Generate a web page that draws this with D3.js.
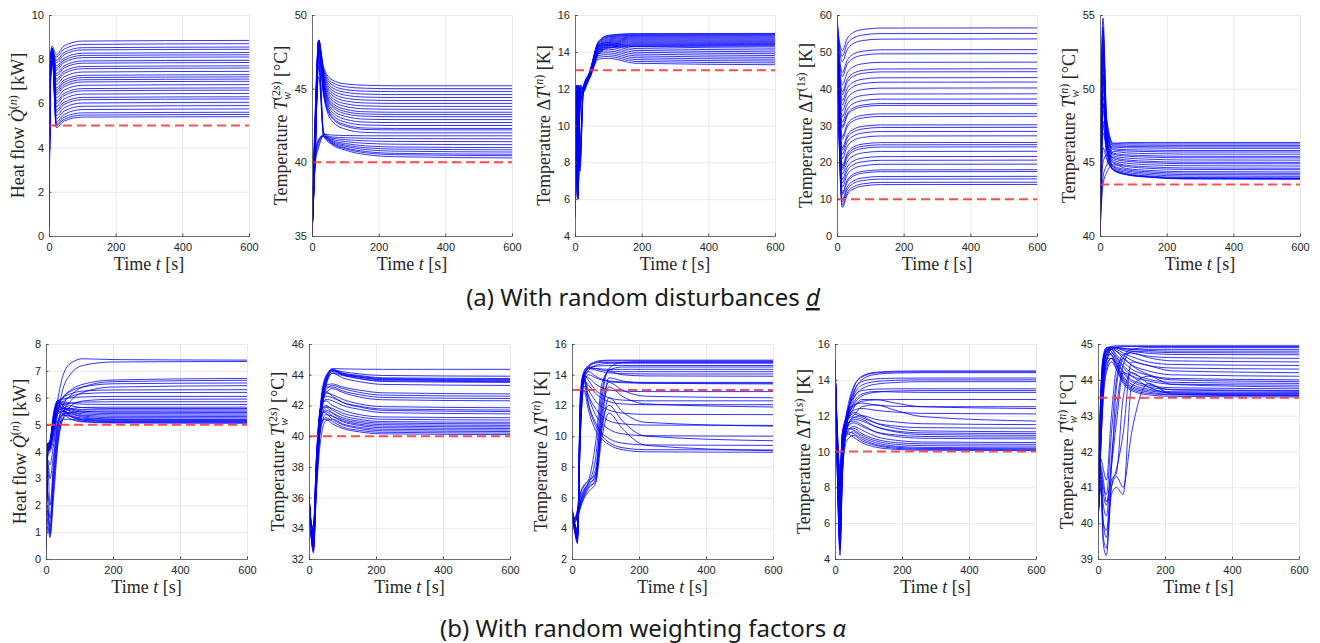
<!DOCTYPE html>
<html>
<head>
<meta charset="utf-8">
<script src="https://cdn.jsdelivr.net/npm/d3@7"></script>
<style>
  body { margin: 0; background: #fff; }
  svg { display: block; }
  .tick text { font-family: "Liberation Sans", Arial, sans-serif; font-size: 11px; fill: #262626; }
</style>
</head>
<body>
<svg id="chart" width="1320" height="643"></svg>
<script>

// ---------- data ----------
const xTicks = [0, 200, 400, 600];

// (a) with random disturbances
const a1Times = [0, 4, 9, 22, 45, 100, 600];
const a1Lines = [
  [0.4, 6.2, 8.3, 4.9, 5.2, 5.38, 5.4], [1.2, 6.8, 8.4, 5.0, 5.28, 5.47, 5.5],
  [0.6, 7.0, 8.2, 5.05, 5.38, 5.57, 5.6], [0.9, 6.5, 8.5, 5.15, 5.5, 5.72, 5.75],
  [0.3, 7.2, 8.3, 5.3, 5.65, 5.87, 5.9], [1.5, 6.9, 8.4, 5.45, 5.8, 6.02, 6.05],
  [0.7, 7.4, 8.5, 5.6, 5.95, 6.17, 6.2], [1.0, 6.6, 8.2, 5.7, 6.05, 6.27, 6.3],
  [0.5, 7.1, 8.4, 5.85, 6.2, 6.42, 6.45], [1.3, 7.5, 8.3, 6.0, 6.35, 6.57, 6.6],
  [0.8, 6.7, 8.5, 6.1, 6.45, 6.67, 6.7], [0.4, 7.3, 8.4, 6.25, 6.6, 6.82, 6.85],
  [1.1, 6.9, 8.2, 6.4, 6.75, 6.97, 7.0], [0.6, 7.6, 8.5, 6.5, 6.85, 7.07, 7.1],
  [1.4, 7.0, 8.3, 6.6, 6.95, 7.17, 7.2], [0.9, 7.2, 8.4, 6.7, 7.05, 7.27, 7.3],
  [0.3, 6.8, 8.5, 6.85, 7.2, 7.42, 7.45], [1.2, 7.4, 8.3, 7.0, 7.35, 7.57, 7.6],
  [0.7, 7.1, 8.4, 7.1, 7.45, 7.67, 7.7], [1.0, 7.7, 8.5, 7.25, 7.6, 7.82, 7.85],
  [0.5, 6.9, 8.2, 7.35, 7.7, 7.92, 7.95], [1.3, 7.5, 8.4, 7.5, 7.85, 8.07, 8.1],
  [0.8, 7.3, 8.5, 7.6, 7.95, 8.17, 8.2], [0.4, 7.8, 8.3, 7.7, 8.05, 8.27, 8.3],
  [1.1, 7.0, 8.4, 7.85, 8.2, 8.42, 8.45], [0.6, 7.6, 8.5, 7.95, 8.3, 8.52, 8.55],
  [1.4, 7.2, 8.3, 8.1, 8.45, 8.67, 8.7], [0.9, 7.9, 8.6, 8.2, 8.6, 8.82, 8.85]
];

const a2Times = [0, 10, 20, 35, 60, 100, 160, 250, 600];
const a2Lines = [
  [35, 41.5, 47.6, 44.5, 42.8, 42.25, 42.03, 42.0, 42.0],
  [35, 42.5, 47.8, 44.6, 43.0, 42.45, 42.23, 42.2, 42.2],
  [35, 40.8, 48.0, 44.7, 43.1, 42.55, 42.33, 42.3, 42.3],
  [35, 43.0, 48.2, 44.8, 43.25, 42.73, 42.53, 42.5, 42.5],
  [35, 41.2, 47.9, 44.95, 43.43, 42.92, 42.73, 42.7, 42.7],
  [35, 42.0, 48.3, 45.06, 43.6, 43.12, 42.93, 42.9, 42.9],
  [35, 40.5, 47.7, 45.18, 43.78, 43.3, 43.13, 43.1, 43.1],
  [35, 42.8, 48.1, 45.27, 43.9, 43.45, 43.28, 43.25, 43.25],
  [35, 41.8, 48.3, 45.36, 44.04, 43.6, 43.43, 43.4, 43.4],
  [35, 43.5, 48.0, 45.48, 44.21, 43.79, 43.63, 43.6, 43.6],
  [35, 41.0, 48.2, 45.6, 44.39, 43.98, 43.83, 43.8, 43.8],
  [35, 42.2, 47.8, 45.72, 44.56, 44.17, 44.03, 44.0, 44.0],
  [35, 40.6, 48.3, 45.84, 44.73, 44.36, 44.23, 44.2, 44.2],
  [35, 43.2, 48.1, 45.96, 44.9, 44.56, 44.43, 44.4, 44.4],
  [35, 41.4, 48.0, 46.08, 45.08, 44.75, 44.63, 44.6, 44.6],
  [35, 42.6, 48.3, 46.2, 45.26, 44.94, 44.83, 44.8, 44.8],
  [35, 40.9, 48.2, 46.32, 45.43, 45.13, 45.03, 45.0, 45.0],
  [35, 43.8, 48.3, 46.44, 45.6, 45.32, 45.23, 45.2, 45.2],
  [35, 41.0, 46.5, 41.8, 41.2, 40.83, 40.53, 40.38, 40.3],
  [35, 40.2, 41.2, 41.8, 41.26, 40.92, 40.65, 40.52, 40.45],
  [35, 41.5, 47.2, 41.8, 41.3, 40.99, 40.74, 40.61, 40.55],
  [35, 40.4, 41.5, 41.8, 41.36, 41.09, 40.87, 40.76, 40.7],
  [35, 42.0, 45.8, 41.8, 41.42, 41.18, 40.99, 40.9, 40.85],
  [35, 40.0, 41.0, 41.8, 41.48, 41.28, 41.12, 41.04, 41.0],
  [35, 41.2, 47.5, 41.9, 41.56, 41.41, 41.29, 41.23, 41.2],
  [35, 40.6, 41.6, 41.8, 41.64, 41.54, 41.46, 41.42, 41.4],
  [35, 41.8, 46.8, 42.0, 41.72, 41.67, 41.63, 41.61, 41.6],
  [35, 40.3, 41.4, 41.9, 41.85, 41.82, 41.8, 41.8, 41.8]
];

const a3Times = [0, 4, 9, 15, 25, 45, 70, 100, 180, 600];
const a3Lines = [
  [5.2, 12.1, 6.2, 11.8, 11.9, 12.7, 13.85, 14.2, 14.29, 14.3],
  [5.8, 7.0, 12.2, 8.0, 12.0, 12.72, 13.9, 14.25, 14.34, 14.35],
  [6.0, 11.0, 8.5, 12.0, 12.1, 12.74, 13.95, 14.3, 14.39, 14.4],
  [5.0, 9.5, 6.0, 11.2, 11.8, 12.76, 14.0, 14.35, 14.44, 14.45],
  [5.4, 12.0, 6.5, 12.0, 12.0, 12.78, 14.05, 14.4, 14.49, 14.5],
  [5.6, 7.5, 12.1, 7.5, 11.9, 12.8, 14.1, 14.45, 14.54, 14.55],
  [5.9, 10.5, 9.0, 12.1, 12.0, 12.82, 14.15, 14.5, 14.59, 14.6],
  [5.1, 9.0, 6.3, 11.5, 11.9, 12.84, 14.2, 14.55, 14.64, 14.65],
  [5.3, 12.2, 7.0, 11.6, 12.0, 12.86, 14.25, 14.6, 14.69, 14.7],
  [5.7, 6.8, 11.8, 8.5, 12.1, 12.88, 14.3, 14.65, 14.74, 14.75],
  [6.1, 11.5, 8.0, 12.2, 11.8, 12.9, 14.35, 14.7, 14.79, 14.8],
  [5.0, 10.0, 6.1, 10.8, 11.9, 12.92, 14.4, 14.75, 14.84, 14.85],
  [5.5, 12.0, 6.8, 11.9, 12.0, 12.94, 14.45, 14.8, 14.89, 14.9],
  [5.8, 7.2, 12.2, 9.0, 12.1, 12.95, 14.48, 14.83, 14.92, 14.93],
  [6.0, 11.2, 7.6, 12.0, 11.9, 12.97, 14.52, 14.87, 14.96, 14.97],
  [5.2, 9.8, 6.4, 11.4, 12.0, 12.98, 14.55, 14.9, 14.99, 15.0],
  [5.3, 12.0, 6.3, 11.6, 11.9, 12.6, 13.6, 13.65, 13.38, 13.3],
  [5.7, 7.3, 12.1, 8.2, 12.0, 12.65, 13.7, 13.75, 13.48, 13.4],
  [6.0, 10.8, 8.8, 12.1, 12.0, 12.6, 13.8, 13.85, 13.58, 13.5],
  [5.1, 9.2, 6.2, 11.0, 11.8, 12.7, 13.9, 13.95, 13.68, 13.6],
  [5.4, 12.1, 6.6, 11.9, 12.0, 12.75, 14.0, 14.05, 13.78, 13.7],
  [5.9, 7.8, 11.9, 7.8, 11.9, 12.7, 14.1, 14.15, 13.88, 13.8],
  [5.6, 11.3, 8.2, 12.2, 12.1, 12.8, 14.2, 14.25, 13.98, 13.9],
  [5.0, 9.6, 6.0, 11.3, 11.8, 12.8, 14.3, 14.35, 14.08, 14.0],
  [5.5, 12.2, 7.2, 11.7, 12.0, 12.85, 14.35, 14.4, 14.18, 14.1],
  [5.8, 7.0, 12.0, 8.6, 12.0, 12.9, 14.4, 14.5, 14.28, 14.2]
];

const a4Times = [0, 6, 16, 30, 50, 80, 130, 600];
const a4Lines = [
  [58.5, 28.1, 7.8, 11.0, 12.8, 13.6, 13.95, 14.0], [58.2, 28.4, 8.4, 11.6, 13.4, 14.2, 14.55, 14.6],
  [58.8, 29.0, 9.3, 12.5, 14.3, 15.1, 15.45, 15.5], [58.0, 29.4, 10.0, 13.2, 15.0, 15.8, 16.15, 16.2],
  [58.6, 30.2, 11.3, 14.5, 16.3, 17.1, 17.45, 17.5], [58.3, 30.5, 11.8, 15.0, 16.8, 17.6, 17.95, 18.0],
  [58.9, 31.4, 13.3, 16.5, 18.3, 19.1, 19.45, 19.5], [58.1, 32.0, 14.4, 17.6, 19.4, 20.2, 20.55, 20.6],
  [58.5, 32.6, 15.4, 18.6, 20.4, 21.2, 21.55, 21.6], [58.7, 33.5, 16.8, 20.0, 21.8, 22.6, 22.95, 23.0],
  [58.2, 34.2, 18.0, 21.2, 23.0, 23.8, 24.15, 24.2], [58.4, 34.6, 18.6, 21.8, 23.6, 24.4, 24.75, 24.8],
  [58.8, 34.9, 19.2, 22.4, 24.2, 25.0, 25.35, 25.4], [58.0, 36.0, 21.0, 24.2, 26.0, 26.8, 27.15, 27.2],
  [58.6, 36.7, 22.2, 25.4, 27.2, 28.0, 28.35, 28.4], [58.3, 37.4, 23.3, 26.5, 28.3, 29.1, 29.45, 29.5],
  [58.9, 37.8, 24.0, 27.2, 29.0, 29.8, 30.15, 30.2], [58.1, 39.2, 26.3, 29.5, 31.3, 32.1, 32.45, 32.5],
  [58.5, 39.6, 27.0, 30.2, 32.0, 32.8, 33.15, 33.2], [58.7, 41.0, 29.3, 32.5, 34.3, 35.1, 35.45, 35.5],
  [58.2, 41.3, 29.8, 33.0, 34.8, 35.6, 35.95, 36.0], [58.4, 42.0, 31.0, 34.2, 36.0, 36.8, 37.15, 37.2],
  [58.8, 42.8, 32.4, 35.6, 37.4, 38.2, 38.55, 38.6], [58.0, 43.8, 34.0, 37.2, 39.0, 39.8, 40.15, 40.2],
  [58.6, 44.8, 35.6, 38.8, 40.6, 41.4, 41.75, 41.8], [58.3, 45.5, 36.8, 40.0, 41.8, 42.6, 42.95, 43.0],
  [58.9, 46.4, 38.4, 41.6, 43.4, 44.2, 44.55, 44.6], [58.1, 46.9, 39.2, 42.4, 44.2, 45.0, 45.35, 45.4],
  [58.5, 48.0, 41.0, 44.2, 46.0, 46.8, 47.15, 47.2], [58.7, 49.4, 43.3, 46.5, 48.3, 49.1, 49.45, 49.5],
  [58.2, 50.0, 44.4, 47.6, 49.4, 50.2, 50.55, 50.6], [58.4, 51.8, 47.3, 50.5, 52.3, 53.1, 53.45, 53.5],
  [58.8, 52.7, 48.8, 52.0, 53.8, 54.6, 54.95, 55.0], [59.5, 53.6, 50.3, 53.5, 55.3, 56.1, 56.45, 56.5]
];

const a5Times = [0, 4, 9, 20, 40, 80, 150, 250, 600];
const a5Lines = [
  [40, 50.5, 54.8, 48.0, 46.3, 46.34, 46.35, 46.35, 46.35],
  [40, 47.0, 52.0, 47.5, 46.26, 46.26, 46.25, 46.25, 46.25],
  [40, 45.0, 49.0, 46.8, 46.19, 46.17, 46.16, 46.15, 46.15],
  [40, 49.0, 53.5, 47.8, 46.11, 46.08, 46.06, 46.05, 46.05],
  [40, 44.0, 47.0, 46.2, 46.04, 45.99, 45.97, 45.95, 45.95],
  [40, 48.0, 51.0, 47.2, 45.93, 45.86, 45.83, 45.8, 45.8],
  [40, 46.0, 50.0, 47.0, 45.85, 45.77, 45.73, 45.7, 45.7],
  [40, 42.5, 44.0, 44.8, 45.74, 45.64, 45.59, 45.56, 45.55],
  [40, 50.0, 54.0, 47.6, 45.63, 45.51, 45.45, 45.41, 45.4],
  [40, 45.5, 48.5, 46.5, 45.55, 45.42, 45.35, 45.31, 45.3],
  [40, 47.5, 52.5, 47.4, 45.44, 45.29, 45.21, 45.16, 45.15],
  [40, 43.0, 45.0, 45.5, 45.33, 45.16, 45.07, 45.01, 45.0],
  [40, 49.5, 53.0, 47.0, 45.25, 45.07, 44.97, 44.91, 44.9],
  [40, 46.5, 51.0, 46.6, 45.14, 44.94, 44.83, 44.77, 44.75],
  [40, 44.5, 47.5, 46.0, 45.03, 44.8, 44.69, 44.62, 44.6],
  [40, 48.5, 52.5, 46.8, 44.95, 44.72, 44.59, 44.52, 44.5],
  [40, 42.0, 43.5, 44.3, 44.84, 44.58, 44.45, 44.37, 44.35],
  [40, 47.0, 50.5, 46.3, 44.76, 44.5, 44.35, 44.27, 44.25],
  [40, 45.0, 49.0, 46.0, 44.69, 44.41, 44.26, 44.17, 44.15],
  [40, 50.0, 54.2, 46.5, 44.61, 44.32, 44.16, 44.07, 44.05],
  [40, 43.5, 46.0, 45.2, 44.54, 44.23, 44.07, 43.97, 43.95],
  [40, 46.0, 49.5, 45.8, 44.5, 44.19, 44.02, 43.92, 43.9],
  [40, 48.0, 51.5, 46.0, 44.48, 44.17, 44.0, 43.9, 43.88],
  [40, 44.8, 47.8, 45.4, 44.46, 44.15, 43.98, 43.87, 43.85]
];

// (b) with random weighting factors
const b1Times = [0, 5, 12, 22, 35, 50, 75, 110, 200, 600];
const b1Lines = [
  [0.5, 4.1, 4.2, 4.7, 5.9, 6.8, 7.3, 7.45, 7.42, 7.4],
  [0.6, 3.8, 4.0, 4.4, 5.4, 6.3, 6.9, 7.2, 7.33, 7.35],
  [0.4, 4.2, 4.3, 4.8, 5.6, 6.0, 6.3, 6.5, 6.66, 6.72],
  [0.7, 3.5, 2.0, 3.5, 5.0, 5.7, 6.1, 6.4, 6.6, 6.65],
  [0.5, 4.0, 4.2, 4.9, 5.7, 6.0, 6.25, 6.4, 6.52, 6.55],
  [0.3, 1.5, 1.0, 2.8, 4.5, 5.4, 5.9, 6.2, 6.4, 6.45],
  [0.6, 4.1, 4.3, 5.0, 5.8, 6.0, 6.15, 6.25, 6.29, 6.3],
  [0.8, 3.9, 4.1, 4.6, 5.5, 5.85, 6.05, 6.15, 6.19, 6.2],
  [0.4, 4.2, 4.4, 5.2, 5.9, 5.95, 6.0, 6.03, 6.05, 6.05],
  [0.5, 2.0, 0.9, 2.2, 4.2, 5.2, 5.7, 5.88, 5.94, 5.95],
  [0.7, 4.0, 4.2, 4.9, 5.6, 5.75, 5.8, 5.84, 5.85, 5.85],
  [0.3, 4.3, 4.3, 5.1, 5.8, 5.85, 5.8, 5.76, 5.75, 5.75],
  [0.6, 3.6, 3.0, 3.8, 5.0, 5.5, 5.6, 5.64, 5.65, 5.65],
  [0.4, 4.1, 4.3, 5.2, 5.9, 5.8, 5.7, 5.63, 5.6, 5.6],
  [0.8, 4.0, 4.1, 4.7, 5.5, 5.6, 5.58, 5.56, 5.55, 5.55],
  [0.5, 1.2, 0.8, 2.5, 4.3, 5.2, 5.45, 5.5, 5.5, 5.5],
  [0.3, 4.2, 4.4, 5.3, 5.8, 5.75, 5.6, 5.5, 5.46, 5.45],
  [0.6, 3.9, 4.2, 5.0, 5.6, 5.65, 5.55, 5.45, 5.41, 5.4],
  [0.4, 4.1, 4.2, 4.9, 5.5, 5.6, 5.5, 5.4, 5.36, 5.35],
  [0.7, 2.5, 1.5, 3.2, 4.8, 5.4, 5.45, 5.35, 5.31, 5.3],
  [0.5, 4.3, 4.4, 5.4, 5.9, 5.7, 5.45, 5.32, 5.26, 5.25],
  [0.3, 4.0, 4.1, 4.8, 5.4, 5.5, 5.4, 5.28, 5.21, 5.2],
  [0.6, 4.2, 4.3, 5.1, 5.7, 5.55, 5.35, 5.24, 5.19, 5.18],
  [0.4, 3.7, 3.5, 4.2, 5.1, 5.35, 5.3, 5.2, 5.16, 5.15],
  [0.8, 4.1, 4.2, 5.0, 5.6, 5.5, 5.3, 5.18, 5.13, 5.12],
  [0.5, 4.3, 4.3, 5.3, 5.8, 5.55, 5.3, 5.16, 5.11, 5.1],
  [0.3, 1.8, 1.2, 3.0, 4.6, 5.2, 5.2, 5.12, 5.08, 5.07],
  [0.6, 4.0, 4.2, 4.9, 5.5, 5.4, 5.2, 5.1, 5.06, 5.05]
];

const b2Times = [0, 6, 13, 22, 35, 50, 70, 100, 150, 220, 600];
const b2Lines = [
  [35.8, 34.2, 33.5, 38.0, 42.0, 43.8, 44.4, 44.38, 44.36, 44.35, 44.35],
  [36.2, 34.0, 33.0, 37.5, 41.6, 43.6, 44.3, 44.2, 44.05, 43.95, 43.9],
  [35.5, 33.6, 32.6, 36.8, 41.2, 43.4, 44.25, 44.1, 43.95, 43.8, 43.75],
  [36.0, 34.4, 33.8, 38.2, 42.2, 43.9, 44.3, 44.05, 43.9, 43.75, 43.7],
  [35.7, 33.9, 32.9, 37.2, 41.4, 43.5, 44.2, 44.0, 43.85, 43.7, 43.65],
  [36.3, 34.1, 33.2, 37.8, 41.8, 43.7, 44.35, 44.1, 43.85, 43.67, 43.6],
  [35.9, 33.7, 32.4, 36.5, 41.0, 43.2, 44.1, 43.95, 43.75, 43.6, 43.55],
  [36.1, 34.3, 33.6, 38.0, 42.0, 43.8, 44.3, 44.0, 43.75, 43.56, 43.5],
  [35.6, 34.0, 33.1, 37.4, 41.5, 43.4, 44.1, 43.8, 43.55, 43.37, 43.3],
  [36.0, 34.2, 33.4, 37.8, 41.8, 43.3, 43.4, 43.2, 43.0, 42.82, 42.75],
  [35.8, 33.8, 32.8, 37.0, 41.3, 43.0, 43.3, 43.1, 42.85, 42.67, 42.6],
  [36.2, 34.5, 33.9, 38.3, 42.0, 43.2, 43.2, 42.95, 42.7, 42.52, 42.45],
  [35.5, 33.5, 32.7, 36.9, 41.0, 42.8, 43.1, 42.85, 42.55, 42.37, 42.3],
  [36.0, 34.0, 33.3, 37.6, 41.6, 42.8, 42.7, 42.4, 42.1, 41.92, 41.85],
  [35.7, 34.3, 33.7, 38.1, 41.9, 42.6, 42.5, 42.2, 41.95, 41.77, 41.7],
  [36.1, 33.9, 33.0, 37.2, 41.2, 42.9, 42.6, 42.2, 41.9, 41.68, 41.6],
  [35.9, 34.1, 33.5, 37.7, 41.5, 42.4, 42.3, 42.0, 41.75, 41.53, 41.45],
  [36.0, 34.4, 33.9, 38.5, 41.9, 42.3, 42.0, 41.7, 41.4, 41.25, 41.2],
  [35.6, 33.7, 32.8, 36.8, 40.8, 41.9, 41.8, 41.5, 41.25, 41.1, 41.05],
  [36.2, 34.2, 33.4, 37.9, 41.5, 42.0, 41.7, 41.35, 41.1, 40.95, 40.9],
  [35.8, 34.0, 33.2, 37.3, 41.1, 41.7, 41.5, 41.2, 40.98, 40.85, 40.8],
  [36.0, 34.5, 34.0, 38.6, 41.8, 41.9, 41.5, 41.1, 40.88, 40.75, 40.7],
  [35.7, 33.8, 33.0, 37.0, 40.5, 41.4, 41.3, 41.0, 40.78, 40.65, 40.6],
  [36.1, 34.1, 33.6, 38.0, 41.3, 41.6, 41.3, 40.95, 40.7, 40.55, 40.5],
  [35.9, 33.6, 32.5, 36.3, 39.8, 41.0, 41.1, 40.8, 40.58, 40.45, 40.4],
  [36.0, 34.3, 33.8, 38.4, 41.6, 41.5, 41.1, 40.75, 40.5, 40.35, 40.3],
  [35.8, 34.0, 33.1, 37.1, 40.6, 41.2, 40.95, 40.6, 40.38, 40.25, 40.2],
  [36.2, 34.2, 33.5, 37.6, 40.9, 41.1, 40.8, 40.5, 40.28, 40.15, 40.1]
];

const b3Times = [0, 8, 16, 25, 35, 50, 70, 90, 110, 150, 220, 600];
const b3Lines = [
  [5.0, 4.0, 3.2, 12.5, 14.1, 14.6, 14.85, 14.93, 14.95, 14.95, 14.95, 14.95],
  [5.2, 4.3, 3.6, 11.0, 13.8, 14.5, 14.8, 14.88, 14.9, 14.9, 14.9, 14.9],
  [5.1, 4.5, 4.8, 5.6, 6.2, 6.8, 7.5, 12.5, 14.4, 14.8, 14.85, 14.85],
  [4.9, 3.8, 3.0, 12.8, 14.2, 14.6, 14.75, 14.8, 14.8, 14.8, 14.8, 14.8],
  [5.3, 4.4, 3.9, 10.2, 13.5, 14.3, 14.6, 14.7, 14.74, 14.75, 14.75, 14.75],
  [5.0, 4.1, 3.4, 11.8, 14.0, 14.45, 14.55, 14.58, 14.6, 14.6, 14.6, 14.6],
  [5.2, 4.6, 5.0, 6.0, 6.5, 7.0, 8.5, 13.0, 14.3, 14.5, 14.5, 14.5],
  [4.8, 3.9, 3.3, 12.2, 14.0, 14.4, 14.4, 14.37, 14.35, 14.35, 14.35, 14.35],
  [5.1, 4.2, 3.7, 11.2, 13.9, 14.5, 14.4, 14.3, 14.25, 14.2, 14.2, 14.2],
  [5.0, 4.0, 3.5, 10.8, 13.7, 14.4, 14.3, 14.2, 14.12, 14.07, 14.05, 14.05],
  [5.3, 4.7, 5.2, 6.3, 6.8, 7.2, 9.5, 13.5, 14.2, 14.0, 13.92, 13.9],
  [4.9, 4.1, 3.6, 11.5, 14.0, 14.2, 13.9, 13.7, 13.6, 13.53, 13.5, 13.5],
  [5.2, 4.3, 3.9, 10.0, 13.5, 14.0, 13.8, 13.65, 13.55, 13.48, 13.45, 13.45],
  [5.0, 4.4, 4.6, 5.4, 6.0, 6.6, 7.2, 11.0, 13.8, 13.6, 13.45, 13.4],
  [5.1, 4.0, 3.4, 12.0, 13.9, 13.8, 13.4, 13.15, 13.0, 12.93, 12.9, 12.9],
  [5.2, 4.6, 4.9, 5.8, 6.4, 7.0, 7.8, 12.0, 13.5, 13.0, 12.6, 12.5],
  [4.9, 3.8, 3.1, 11.8, 14.0, 13.6, 13.0, 12.7, 12.5, 12.35, 12.3, 12.3],
  [5.0, 4.2, 3.6, 10.6, 13.6, 13.3, 12.8, 12.45, 12.25, 12.1, 12.05, 12.05],
  [5.3, 4.5, 4.7, 5.5, 6.1, 6.7, 7.0, 11.5, 13.2, 12.6, 12.1, 11.9],
  [5.1, 4.1, 3.5, 11.3, 13.8, 13.0, 12.3, 11.9, 11.7, 11.5, 11.42, 11.4],
  [5.0, 4.3, 3.8, 10.5, 13.5, 12.6, 11.8, 11.3, 11.0, 10.8, 10.72, 10.7],
  [5.2, 4.6, 5.1, 6.2, 6.7, 7.1, 7.5, 10.5, 12.5, 11.6, 10.9, 10.65],
  [4.9, 3.9, 3.3, 11.6, 13.7, 12.5, 11.4, 10.8, 10.45, 10.15, 10.03, 10.0],
  [5.1, 4.5, 4.8, 5.7, 6.3, 6.9, 7.3, 10.8, 12.0, 11.0, 10.0, 9.7],
  [5.0, 4.2, 3.7, 10.9, 13.3, 12.0, 10.9, 10.2, 9.85, 9.55, 9.43, 9.4],
  [5.2, 4.0, 3.4, 12.1, 13.9, 12.0, 10.7, 10.0, 9.6, 9.25, 9.12, 9.1],
  [5.0, 4.4, 4.7, 5.3, 5.9, 6.4, 6.9, 10.0, 11.5, 10.5, 9.4, 9.05],
  [5.1, 4.1, 3.6, 10.2, 13.0, 11.6, 10.4, 9.8, 9.45, 9.12, 8.98, 8.95]
];

const b4Times = [0, 6, 15, 22, 35, 55, 80, 120, 180, 260, 600];
const b4Lines = [
  [15.0, 10.5, 6.0, 9.5, 11.8, 13.5, 14.2, 14.42, 14.48, 14.5, 14.5],
  [14.9, 11.0, 7.5, 10.5, 12.2, 13.6, 14.15, 14.38, 14.44, 14.45, 14.45],
  [15.0, 9.5, 4.5, 8.5, 11.5, 13.2, 14.0, 14.3, 14.38, 14.4, 14.4],
  [14.8, 10.8, 6.8, 10.0, 11.9, 13.3, 13.9, 14.05, 14.09, 14.1, 14.1],
  [15.0, 11.2, 8.0, 10.8, 12.0, 13.1, 13.7, 13.9, 13.97, 14.0, 14.0],
  [14.9, 10.0, 5.2, 9.0, 11.6, 12.9, 13.5, 13.75, 13.85, 13.9, 13.9],
  [15.0, 10.6, 6.5, 10.2, 12.1, 13.0, 13.4, 13.48, 13.5, 13.5, 13.5],
  [14.8, 11.5, 8.5, 11.0, 11.8, 12.6, 13.1, 13.3, 13.38, 13.4, 13.4],
  [15.0, 9.8, 4.8, 8.8, 11.4, 12.7, 13.2, 13.35, 13.32, 13.3, 13.3],
  [14.9, 10.9, 7.2, 10.4, 11.9, 12.5, 12.8, 12.88, 12.9, 12.9, 12.9],
  [15.0, 11.3, 8.2, 10.9, 12.0, 12.6, 12.7, 12.6, 12.52, 12.5, 12.5],
  [14.8, 10.2, 5.6, 9.3, 11.5, 12.4, 12.9, 12.9, 12.7, 12.5, 12.4],
  [15.0, 10.7, 6.6, 10.1, 11.7, 12.3, 12.4, 12.3, 12.2, 12.13, 12.1],
  [14.9, 11.6, 8.8, 11.1, 11.8, 12.0, 12.5, 12.6, 12.3, 11.95, 11.7],
  [15.0, 9.6, 4.2, 8.6, 11.3, 11.9, 12.0, 11.8, 11.65, 11.55, 11.5],
  [14.8, 11.0, 7.0, 10.3, 11.7, 12.1, 11.9, 11.6, 11.42, 11.33, 11.3],
  [15.0, 10.4, 6.2, 9.8, 11.6, 12.2, 12.0, 11.6, 11.3, 11.15, 11.1],
  [14.9, 11.4, 8.4, 10.9, 11.4, 11.8, 11.7, 11.4, 11.15, 11.04, 11.0],
  [15.0, 9.9, 5.0, 9.1, 11.2, 11.9, 11.8, 11.4, 11.1, 10.95, 10.9],
  [14.8, 10.6, 6.8, 10.2, 11.3, 11.6, 11.4, 11.1, 10.93, 10.84, 10.8],
  [15.0, 11.1, 7.8, 10.6, 11.5, 11.7, 11.5, 11.1, 10.85, 10.74, 10.7],
  [14.9, 10.1, 5.4, 9.4, 11.0, 11.4, 11.2, 10.85, 10.63, 10.53, 10.5],
  [15.0, 10.8, 7.3, 10.4, 11.2, 11.3, 11.0, 10.7, 10.5, 10.43, 10.4],
  [14.8, 11.7, 9.0, 11.0, 11.3, 11.2, 10.9, 10.6, 10.4, 10.33, 10.3],
  [15.0, 10.3, 5.8, 9.6, 10.9, 11.1, 10.8, 10.5, 10.3, 10.23, 10.2],
  [14.9, 10.9, 7.6, 10.5, 11.1, 11.0, 10.7, 10.4, 10.24, 10.17, 10.15],
  [15.0, 9.7, 4.6, 8.9, 10.6, 10.9, 10.6, 10.35, 10.18, 10.12, 10.1],
  [14.8, 11.2, 8.0, 10.7, 11.0, 10.8, 10.5, 10.25, 10.12, 10.07, 10.05]
];

const b5Times = [0, 8, 16, 25, 40, 55, 75, 100, 150, 220, 600];
const b5Lines = [
  [40, 43.5, 44.6, 44.85, 44.93, 44.95, 44.95, 44.95, 44.95, 44.95, 44.95],
  [40, 42.5, 44.2, 44.7, 44.88, 44.92, 44.93, 44.93, 44.93, 44.93, 44.93],
  [40, 41.0, 40.0, 39.8, 41.5, 43.8, 44.6, 44.85, 44.9, 44.9, 44.9],
  [40, 43.2, 44.5, 44.8, 44.9, 44.9, 44.88, 44.86, 44.85, 44.85, 44.85],
  [40, 42.0, 43.8, 44.5, 44.85, 44.9, 44.88, 44.85, 44.82, 44.8, 44.8],
  [40, 41.3, 40.5, 40.2, 41.8, 43.2, 44.4, 44.8, 44.78, 44.76, 44.75],
  [40, 43.6, 44.7, 44.9, 44.92, 44.9, 44.85, 44.8, 44.74, 44.71, 44.7],
  [40, 42.8, 44.3, 44.75, 44.9, 44.88, 44.82, 44.75, 44.66, 44.62, 44.6],
  [40, 41.5, 41.0, 40.8, 42.5, 44.0, 44.7, 44.75, 44.62, 44.53, 44.5],
  [40, 43.0, 44.5, 44.85, 44.9, 44.85, 44.75, 44.65, 44.5, 44.43, 44.4],
  [40, 42.2, 43.9, 44.6, 44.85, 44.8, 44.68, 44.55, 44.4, 44.33, 44.3],
  [40, 41.2, 39.6, 39.3, 41.0, 41.5, 42.5, 44.5, 44.4, 44.25, 44.2],
  [40, 43.4, 44.6, 44.88, 44.9, 44.8, 44.6, 44.42, 44.25, 44.14, 44.1],
  [40, 42.6, 44.1, 44.7, 44.85, 44.7, 44.5, 44.3, 44.13, 44.04, 44.0],
  [40, 41.8, 41.5, 41.2, 43.0, 44.3, 44.6, 44.4, 44.15, 44.0, 43.95],
  [40, 43.1, 44.4, 44.8, 44.85, 44.65, 44.4, 44.2, 44.02, 43.93, 43.9],
  [40, 42.4, 43.9, 44.5, 44.75, 44.6, 44.35, 44.12, 43.97, 43.88, 43.85],
  [40, 41.0, 39.4, 39.1, 40.8, 41.0, 40.8, 43.8, 44.1, 43.87, 43.8],
  [40, 43.3, 44.5, 44.85, 44.8, 44.55, 44.25, 44.0, 43.85, 43.78, 43.75],
  [40, 42.0, 43.6, 44.3, 44.6, 44.5, 44.2, 43.95, 43.8, 43.73, 43.7],
  [40, 41.6, 41.2, 40.6, 41.2, 41.4, 43.5, 44.2, 43.9, 43.72, 43.68],
  [40, 43.0, 44.3, 44.7, 44.7, 44.45, 44.1, 43.88, 43.74, 43.67, 43.65],
  [40, 42.5, 43.9, 44.4, 44.6, 44.4, 44.05, 43.82, 43.7, 43.64, 43.62],
  [40, 41.4, 40.8, 40.5, 41.6, 42.8, 44.2, 44.1, 43.8, 43.63, 43.6],
  [40, 43.5, 44.6, 44.8, 44.7, 44.4, 44.0, 43.78, 43.66, 43.6, 43.58],
  [40, 42.1, 43.5, 44.2, 44.5, 44.3, 43.95, 43.74, 43.62, 43.58, 43.56],
  [40, 41.1, 40.0, 39.6, 41.0, 41.3, 41.0, 42.5, 43.9, 43.6, 43.55],
  [40, 42.9, 44.2, 44.6, 44.6, 44.3, 43.9, 43.7, 43.58, 43.54, 43.52]
];

// reference (set-point) levels, axis ranges and ticks per panel
const refLevels = [5, 40, 13, 10, 43.5, 5, 40, 13, 10, 43.5];
const yDomains = [[0, 10], [35, 50], [4, 16], [0, 60], [40, 55], [0, 8], [32, 46], [2, 16], [4, 16], [39, 45]];
const yTicks = [
  [0, 2, 4, 6, 8, 10], [35, 40, 45, 50], [4, 6, 8, 10, 12, 14, 16], [0, 10, 20, 30, 40, 50, 60], [40, 45, 50, 55],
  [0, 1, 2, 3, 4, 5, 6, 7, 8], [32, 34, 36, 38, 40, 42, 44, 46], [2, 4, 6, 8, 10, 12, 14, 16], [4, 6, 8, 10, 12, 14, 16], [39, 40, 41, 42, 43, 44, 45]
];

// axis label pieces
const labelQ = [{ t: "Heat flow " }, { t: "Q\u0307", it: true }, { t: "(", sup: true }, { t: "n", sup: true, it: true }, { t: ")", sup: true }, { t: " [kW]" }];
const labelTw2s = [{ t: "Temperature " }, { t: "T", it: true }, { t: "w", it: true, sub: true }, { t: "(2", sup: true, dx: -8 }, { t: "s", sup: true, it: true }, { t: ")", sup: true }, { t: " [°C]" }];
const labelDTn = [{ t: "Temperature Δ" }, { t: "T", it: true }, { t: "(", sup: true }, { t: "n", sup: true, it: true }, { t: ")", sup: true }, { t: " [K]" }];
const labelDT1s = [{ t: "Temperature Δ" }, { t: "T", it: true }, { t: "(1", sup: true }, { t: "s", sup: true, it: true }, { t: ")", sup: true }, { t: " [K]" }];
const labelTwn = [{ t: "Temperature " }, { t: "T", it: true }, { t: "w", it: true, sub: true }, { t: "(", sup: true, dx: -8 }, { t: "n", sup: true, it: true }, { t: ")", sup: true }, { t: " [°C]" }];
const labelTime = [{ t: "Time " }, { t: "t", it: true }, { t: " [s]" }];

const captions = [
  [{ t: "(a) With random disturbances " }, { t: "d", it: true, ul: true }],
  [{ t: "(b) With random weighting factors " }, { t: "α", it: true }]
];

// ---------- layout ----------
const svg = d3.select("#chart");
const serif = "'Liberation Serif', 'DejaVu Serif', serif";

const series = [
  [a1Times, a1Lines, labelQ], [a2Times, a2Lines, labelTw2s], [a3Times, a3Lines, labelDTn],
  [a4Times, a4Lines, labelDT1s], [a5Times, a5Lines, labelTwn],
  [b1Times, b1Lines, labelQ], [b2Times, b2Lines, labelTw2s], [b3Times, b3Lines, labelDTn],
  [b4Times, b4Lines, labelDT1s], [b5Times, b5Lines, labelTwn]
];

const rows = [
  { top: 15, bottom: 236, width: 200, lefts: [49, 312, 575, 837, 1100], capY: 306 },
  { top: 344, bottom: 559, width: 201, lefts: [46, 309, 572, 835, 1098], capY: 637 }
];
const labelOffsets = [25, 25, 25, 25, 25, 20, 25, 25, 25, 25];

function richText(sel, parts, subSize) {
  let shift = 0;
  parts.forEach(p => {
    const target = p.sup ? -7 : p.sub ? 4 : 0;
    const ts = sel.append("tspan").text(p.t).attr("dy", target - shift);
    shift = target;
    if (p.sup || p.sub) ts.style("font-size", subSize + "px");
    if (p.it) ts.style("font-style", "italic");
    if (p.ul) ts.style("text-decoration", "underline");
    if (p.dx) ts.attr("dx", p.dx);
  });
}

series.forEach(([times, lines, label], i) => {
  const row = rows[Math.floor(i / 5)];
  const left = row.lefts[i % 5];
  const w = row.width, h = row.bottom - row.top;

  const x = d3.scaleLinear().domain([0, 600]).range([0, w]);
  const y = d3.scaleLinear().domain(yDomains[i]).range([h, 0]);

  const g = svg.append("g").attr("transform", `translate(${left},${row.top})`);

  // grid
  g.append("g")
    .call(d3.axisLeft(y).tickValues(yTicks[i]).tickSize(-w).tickFormat(""))
    .call(s => s.select(".domain").remove())
    .selectAll("line").attr("stroke", "#e3e3e3").attr("stroke-width", 0.8);
  g.append("g")
    .attr("transform", `translate(0,${h})`)
    .call(d3.axisBottom(x).tickValues(xTicks).tickSize(-h).tickFormat(""))
    .call(s => s.select(".domain").remove())
    .selectAll("line").attr("stroke", "#e3e3e3").attr("stroke-width", 0.8);

  g.append("clipPath").attr("id", "clip" + i)
    .append("rect").attr("width", w).attr("height", h);

  const line = d3.line()
    .x((d, k) => x(times[k]))
    .y(d => y(d))
    .curve(d3.curveMonotoneX);

  g.append("g").attr("clip-path", `url(#clip${i})`)
    .selectAll("path")
    .data(lines)
    .join("path")
    .attr("d", line)
    .attr("fill", "none")
    .attr("stroke", "#0000ff")
    .attr("stroke-width", 0.8);

  g.append("line")
    .attr("x1", x(0)).attr("x2", x(600))
    .attr("y1", y(refLevels[i])).attr("y2", y(refLevels[i]))
    .attr("stroke", "#ff3b3b")
    .attr("stroke-opacity", 0.9)
    .attr("stroke-width", 2)
    .attr("stroke-dasharray", "9,5");

  // axes
  const yAxis = g.append("g")
    .call(d3.axisLeft(y).tickValues(yTicks[i]).tickFormat(d => String(d)).tickSize(-2.5).tickPadding(5));
  const xAxis = g.append("g")
    .attr("transform", `translate(0,${h})`)
    .call(d3.axisBottom(x).tickValues(xTicks).tickFormat(d => String(d)).tickSize(-2.5).tickPadding(7));
  [yAxis, xAxis].forEach(a => {
    a.select(".domain").attr("stroke", "#4d4d4d").attr("stroke-width", 0.8);
    a.selectAll(".tick line").attr("stroke", "#4d4d4d");
  });

  const yl = g.append("text")
    .attr("transform", `translate(${-labelOffsets[i]},${h / 2}) rotate(-90)`)
    .attr("text-anchor", "middle")
    .attr("fill", "#262626")
    .style("font-family", serif)
    .style("font-size", "18px");
  richText(yl, label, 12);

  const xl = g.append("text")
    .attr("x", w / 2).attr("y", h + 34)
    .attr("text-anchor", "middle")
    .attr("fill", "#262626")
    .style("font-family", serif)
    .style("font-size", "18px");
  richText(xl, labelTime, 12);
});

captions.forEach((parts, r) => {
  const t = svg.append("text")
    .attr("x", 643).attr("y", rows[r].capY)
    .attr("text-anchor", "middle")
    .attr("fill", "#1a1a1a")
    .style("font-family", "'Noto Sans', 'Open Sans', sans-serif")
    .style("font-size", "24px");
  richText(t, parts, 16);
});
</script>
</body>
</html>
